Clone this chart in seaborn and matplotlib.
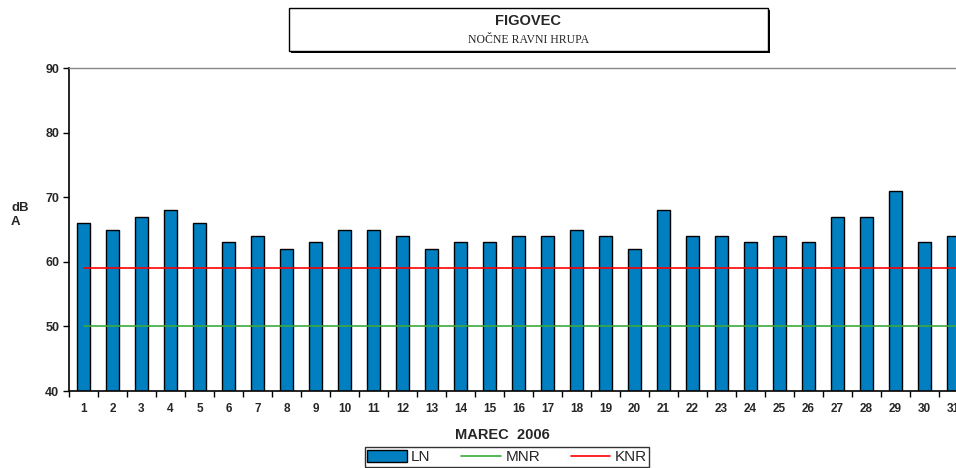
import numpy as np
import pandas as pd
import matplotlib
matplotlib.use("Agg")
import matplotlib.pyplot as plt
from matplotlib.patches import Rectangle, Patch
from matplotlib.lines import Line2D
import seaborn as sns

DAYS = [str(d) for d in range(1, 32)]
LN = [66, 65, 67, 68, 66, 63, 64, 62, 63, 65, 65, 64, 62, 63, 63, 64,
      64, 65, 64, 62, 68, 64, 64, 63, 64, 63, 67, 67, 71, 63, 64]
MNR = 50
KNR = 59
Y_TICKS = [40, 50, 60, 70, 80, 90]

BAR_COLOR = "#0080C0"
MNR_COLOR = "#3CAA3C"
KNR_COLOR = "#FF0000"

sns.set_style("white")
plt.rcParams["font.family"] = ["Liberation Sans", "DejaVu Sans"]

W, H = 956, 468
fig = plt.figure(figsize=(W / 100, H / 100), dpi=100)

# axes run past the right edge, like the source image (last bar cut off)
left, right, top, bottom = 69, 968, 68, 391
ax = fig.add_axes([left / W, 1 - bottom / H, (right - left) / W, (bottom - top) / H])

df = pd.DataFrame({"day": DAYS, "ln": LN})
sns.barplot(data=df, x="day", y="ln", color=BAR_COLOR, width=0.46,
            edgecolor="black", linewidth=1.0, saturation=1, ax=ax)

xs = np.arange(len(DAYS))
ax.plot([xs[0], xs[-1] + 1], [MNR, MNR], color=MNR_COLOR, lw=1.2)
ax.plot([xs[0], xs[-1] + 1], [KNR, KNR], color=KNR_COLOR, lw=1.2)

ax.set_xlim(-0.5, len(DAYS) - 0.5)
ax.set_ylim(Y_TICKS[0], Y_TICKS[-1])
ax.set_yticks(Y_TICKS)
ax.set_xticks(xs)
ax.set_xticklabels(DAYS)
ax.set_xticks(np.arange(-0.5, len(DAYS), 1), minor=True)
ax.tick_params(axis="x", which="major", length=0, pad=9, labelsize=8.5)
ax.tick_params(axis="x", which="minor", length=4, width=1, color="black",
               direction="out", bottom=True)
ax.tick_params(axis="y", length=4, width=1, color="black", direction="out",
               left=True, labelsize=9, pad=3)
for lbl in ax.get_xticklabels() + ax.get_yticklabels():
    lbl.set_fontweight("bold")

for s in ["left", "bottom"]:
    ax.spines[s].set_color("black")
    ax.spines[s].set_linewidth(1.2)
ax.spines["top"].set_color("#888888")
ax.spines["top"].set_linewidth(1.0)
ax.spines["right"].set_visible(False)

ax.set_xlabel("")
ax.set_ylabel("")
fig.text(11 / W, 1 - 215 / H, "dB\nA", fontsize=9.5, fontweight="bold",
         ha="left", va="center", linespacing=1.3)
fig.text(502 / W, 1 - 435 / H, "MAREC  2006", fontsize=10.5, fontweight="bold",
         ha="center", va="center")

# title box with drop shadow
bx0, bx1, by0, by1 = 289, 768, 8, 51
fig.patches.append(Rectangle(((bx0 + 2) / W, 1 - (by1 + 2) / H), (bx1 - bx0) / W,
                             (by1 - by0) / H, transform=fig.transFigure,
                             facecolor="black", edgecolor="none", zorder=1))
fig.patches.append(Rectangle((bx0 / W, 1 - by1 / H), (bx1 - bx0) / W,
                             (by1 - by0) / H, transform=fig.transFigure,
                             facecolor="white", edgecolor="black", lw=1, zorder=2))
fig.text((bx0 + bx1) / 2 / W, 1 - 21 / H, "FIGOVEC", fontsize=10.5,
         fontweight="bold", ha="center", va="center", zorder=3)
fig.text((bx0 + bx1) / 2 / W, 1 - 40 / H, "NOČNE RAVNI HRUPA", fontsize=8.5,
         family=["Liberation Serif", "DejaVu Serif"], ha="center", va="center", zorder=3)

handles = [Patch(facecolor=BAR_COLOR, edgecolor="black", lw=1.0),
           Line2D([], [], color=MNR_COLOR, lw=1.2),
           Line2D([], [], color=KNR_COLOR, lw=1.2)]
leg = fig.legend(handles, ["LN", "MNR", "KNR"], ncol=3, loc="center",
                 bbox_to_anchor=(507 / W, 1 - 457 / H), frameon=True,
                 fancybox=False, fontsize=11, handlelength=2.6,
                 handleheight=0.9, columnspacing=2.0, handletextpad=0.3,
                 borderpad=0.15)
leg.get_frame().set_edgecolor("black")
leg.get_frame().set_linewidth(1.0)

fig.savefig("out.png", dpi=100)
